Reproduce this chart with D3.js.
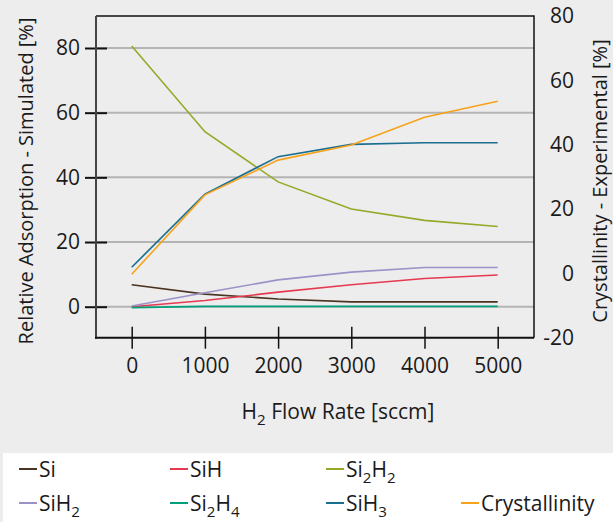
<!DOCTYPE html>
<html lang="en">
<head>
  <meta charset="UTF-8">
  <title>Adsorption vs H2 flow</title>
  <script src="https://d3js.org/d3.v7.min.js"></script>
  <style>
    body { margin: 0; background: #ededed; }
    svg text { font-family: "Open Sans", "Noto Sans", sans-serif; fill: #1a1a1a; }
    .series { fill: none; stroke-width: 1.6px; }
  </style>
</head>
<body>
  <div id="chart"></div>
  <script>
    // data
    const flow = [0, 1000, 2000, 3000, 4000, 5000];
    const si     = [6.8, 3.9, 2.4, 1.5, 1.5, 1.5];
    const siH    = [0, 1.9, 4.5, 6.8, 8.7, 9.8];
    const si2H2  = [80.6, 54.1, 38.6, 30.2, 26.7, 24.8];
    const siH2   = [0.2, 4.3, 8.3, 10.7, 12.1, 12.1];
    const si2H4  = [-0.3, 0.1, 0.1, 0.1, 0.1, 0.1];
    const siH3   = [12.2, 34.8, 46.4, 50.2, 50.7, 50.7];
    const crystallinity = [-0.3, 24.4, 35.2, 39.9, 48.5, 53.5];

    const leftTicks = [0, 20, 40, 60, 80];
    const rightTicks = [-20, 0, 20, 40, 60, 80];

    const series = [
      { name: "Si", values: si, color: "#4b3421", axis: "left" },
      { name: "SiH", values: siH, color: "#e63a50", axis: "left" },
      { name: "Si2H2", values: si2H2, color: "#97a828", axis: "left" },
      { name: "SiH2", values: siH2, color: "#9c92c8", axis: "left" },
      { name: "Si2H4", values: si2H4, color: "#00a07c", axis: "left" },
      { name: "SiH3", values: siH3, color: "#1a6e90", axis: "left" },
      { name: "Crystallinity", values: crystallinity, color: "#f7a21b", axis: "right" }
    ];

    const width = 613, height = 522;
    const plot = { left: 96, right: 534, top: 16, bottom: 337.7 };

    const svg = d3.select("#chart").append("svg")
      .attr("width", width).attr("height", height);

    svg.append("rect").attr("width", width).attr("height", height).attr("fill", "#ededed");

    // scales
    const x = d3.scaleLinear().domain([0, 5000]).range([131.7, 497.7]);
    const yLeft = d3.scaleLinear().domain([0, 80]).range([306.7, 48]);
    const yRight = d3.scaleLinear().domain([-20, 80]).range([plot.bottom, plot.top]);

    // writes "Si2H2" style labels with subscripts
    function chem(textSel, label, size) {
      const parts = label.match(/\d+|[^\d]+/g);
      let sub = false;
      parts.forEach(p => {
        const isNum = /^\d+$/.test(p);
        const t = textSel.append("tspan").text(p);
        if (isNum && !sub) { t.attr("dy", size * 0.3).style("font-size", (size * 0.72) + "px"); sub = true; }
        else if (!isNum && sub) { t.attr("dy", -size * 0.3); sub = false; }
      });
    }

    // grid lines
    svg.append("g")
      .selectAll("line")
      .data(leftTicks)
      .join("line")
      .attr("x1", plot.left).attr("x2", plot.right)
      .attr("y1", d => yLeft(d)).attr("y2", d => yLeft(d))
      .attr("stroke", "#b4b4b4").attr("stroke-width", 2);

    // frame top + right
    svg.append("path")
      .attr("d", `M${plot.left},${plot.top}H${plot.right}V${plot.bottom}`)
      .attr("fill", "none").attr("stroke", "#111").attr("stroke-width", 1.5);

    // left axis
    const gl = svg.append("g").attr("transform", `translate(${plot.left},0)`)
      .call(d3.axisLeft(yLeft).tickValues(leftTicks).tickSize(0).tickPadding(16));
    gl.select(".domain").remove();
    gl.append("line").attr("y1", plot.top).attr("y2", plot.bottom + 1)
      .attr("stroke", "#444").attr("stroke-width", 2);
    gl.selectAll(".tick").append("line").attr("x1", -11).attr("x2", 11)
      .attr("stroke", "#111").attr("stroke-width", 2);
    gl.selectAll(".tick text").style("font-size", "21px").attr("fill", "#1a1a1a");

    // bottom axis
    const gb = svg.append("g").attr("transform", `translate(0,${plot.bottom})`)
      .call(d3.axisBottom(x).tickValues(flow).tickSize(0).tickPadding(20).tickFormat(d => String(d)));
    gb.select(".domain").remove();
    gb.append("line").attr("x1", plot.left - 1).attr("x2", plot.right)
      .attr("stroke", "#111").attr("stroke-width", 2);
    gb.selectAll(".tick").append("line").attr("y1", -11).attr("y2", 11)
      .attr("stroke", "#111").attr("stroke-width", 1.5);
    gb.selectAll(".tick text").style("font-size", "21px").attr("fill", "#1a1a1a");

    // right axis (labels only)
    const gr = svg.append("g").attr("transform", `translate(574,0)`)
      .call(d3.axisLeft(yRight).tickValues(rightTicks).tickSize(0).tickPadding(0).tickFormat(d => String(d)));
    gr.select(".domain").remove();
    gr.selectAll(".tick text").style("font-size", "21px").attr("fill", "#1a1a1a");

    // lines
    series.forEach(s => {
      const yS = s.axis === "left" ? yLeft : yRight;
      const line = d3.line().x((d, i) => x(flow[i])).y(d => yS(d));
      svg.append("path").datum(s.values)
        .attr("class", "series")
        .attr("stroke", s.color)
        .attr("d", line);
    });

    // axis titles
    svg.append("text")
      .attr("transform", "translate(25,181) rotate(-90)")
      .attr("text-anchor", "middle").attr("dominant-baseline", "central")
      .style("font-size", "20px")
      .text("Relative Adsorption - Simulated [%]");

    svg.append("text")
      .attr("transform", "translate(599,181) rotate(-90)")
      .attr("text-anchor", "middle").attr("dominant-baseline", "central")
      .style("font-size", "20px")
      .text("Crystallinity - Experimental [%]");

    const xt = svg.append("text")
      .attr("x", 338).attr("y", 419)
      .attr("text-anchor", "middle")
      .style("font-size", "21px");
    chem(xt, "H2 Flow Rate [sccm]", 21);

    // legend
    svg.append("rect").attr("x", 3).attr("y", 453).attr("width", width - 3).attr("height", height - 453)
      .attr("fill", "#ffffff");

    const legendPos = [
      [19, 477], [170, 477], [326, 477],
      [19, 511], [170, 511], [326, 511], [461, 511]
    ];
    series.forEach((s, i) => {
      const [lx, ly] = legendPos[i];
      svg.append("line")
        .attr("x1", lx).attr("x2", lx + 18)
        .attr("y1", ly - 8).attr("y2", ly - 8)
        .attr("stroke", s.color).attr("stroke-width", 2);
      const t = svg.append("text").attr("x", lx + 20).attr("y", ly).style("font-size", "21px");
      chem(t, s.name, 21);
    });
  </script>
</body>
</html>
